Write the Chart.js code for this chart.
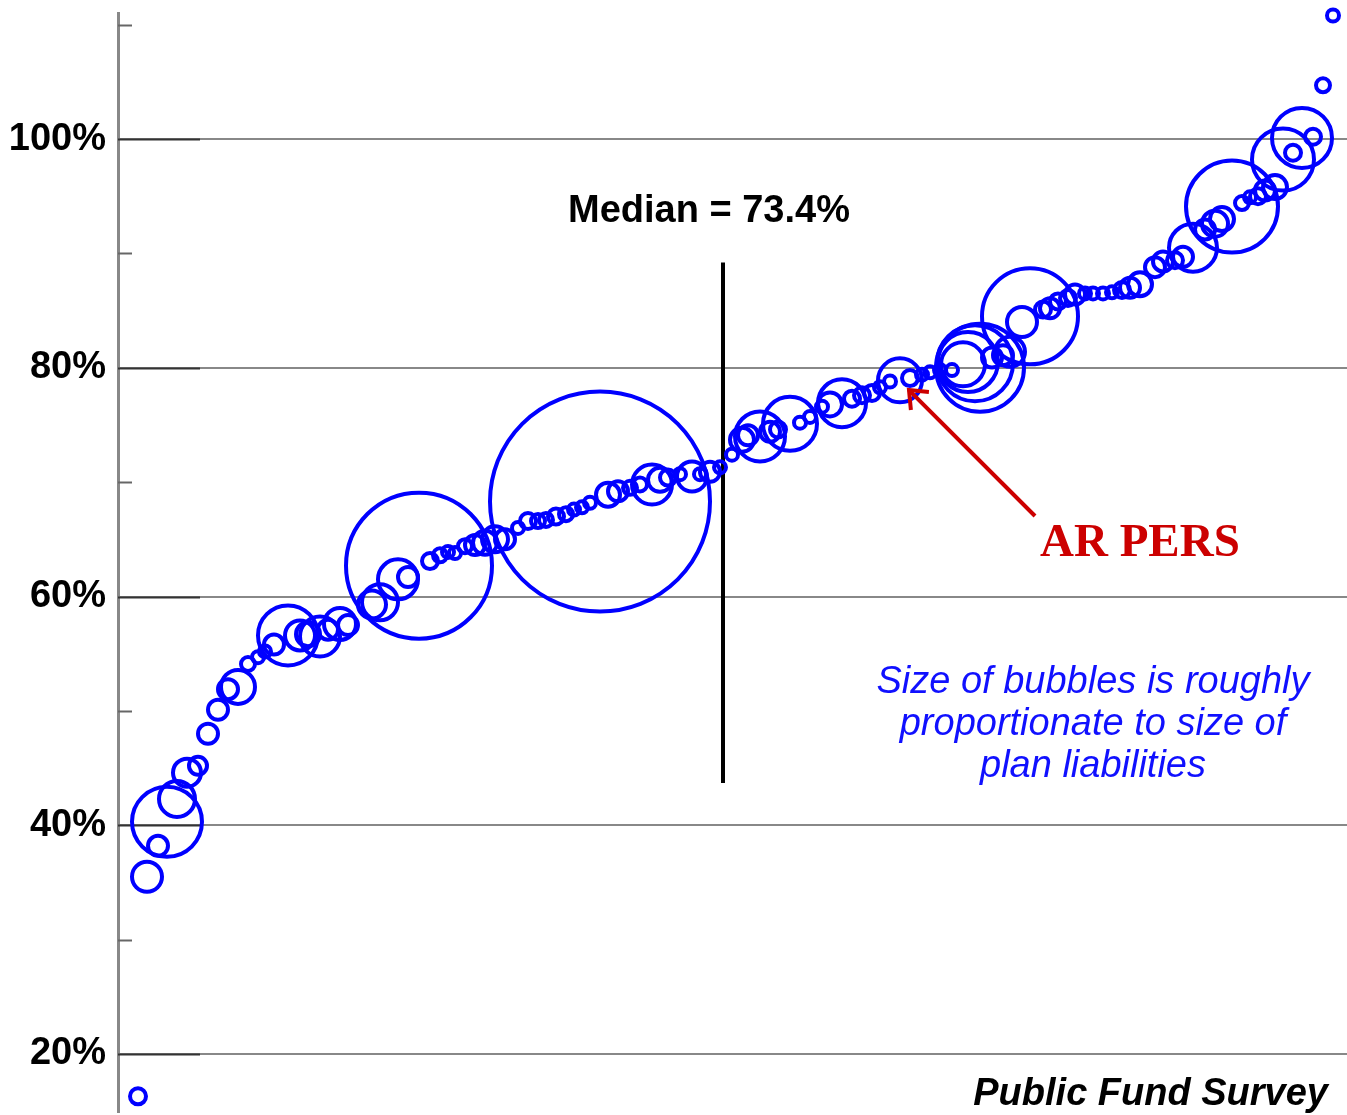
<!DOCTYPE html>
<html>
<head>
<meta charset="utf-8">
<script src="https://cdn.jsdelivr.net/npm/chart.js@4"></script>
<style>
  html, body { margin: 0; padding: 0; background: #fff; }
  #wrap { width: 1347px; height: 1115px; position: relative; }
</style>
</head>
<body>
<div id="wrap"><canvas id="myChart"></canvas></div>
<script>
// plan rank along the x axis (sorted by funded ratio)
const ranks = [2.0, 2.9, 4.0, 4.9, 5.9, 6.9, 8.0, 9.0, 10.0, 11.0, 12.0, 13.0, 14.0, 14.7, 15.6, 17.0, 18.2, 19.0, 20.2, 21.0,
  22.2, 23.0, 25.4, 26.2, 28.0, 29.0, 30.1, 31.2, 32.2, 33.0, 33.7, 34.7, 35.7, 36.7, 37.7, 38.7, 40.0, 41.0, 42.0, 42.8,
  43.8, 44.8, 45.6, 46.4, 47.2, 48.2, 49.0, 50.0, 51.2, 52.2, 53.4, 54.2, 55.0, 56.2, 57.4, 58.2, 59.2, 60.2, 61.4, 62.4,
  63.0, 64.2, 65.2, 66.0, 67.2, 68.2, 69.2, 70.4, 71.2, 72.4, 73.4, 74.4, 75.4, 76.2, 77.2, 78.2, 79.2, 80.4, 81.2, 82.2,
  83.4, 84.5, 85.0, 85.7, 86.2, 87.4, 88.5, 89.2, 90.4, 91.2, 92.5, 93.2, 94.0, 95.0, 95.7, 96.7, 97.5, 98.5, 99.4, 100.4,
  101.2, 102.2, 103.7, 104.5, 105.7, 106.5, 107.5, 108.7, 109.7, 110.4, 111.4, 112.4, 113.2, 114.0, 114.7, 115.7, 116.5, 117.5, 118.4, 119.5,
  120.5, 121.5];

// funded ratio, %
const fundedRatio = [16.3, 35.5, 38.2, 40.3, 42.3, 44.6, 45.2, 48.0, 50.1, 51.9, 52.1, 54.1, 54.7, 55.2, 55.8, 56.6, 56.6, 56.7, 56.5, 57.1,
  57.6, 57.5, 59.3, 59.5, 61.5, 61.7, 62.7, 63.1, 63.6, 63.9, 63.8, 64.4, 64.5, 64.7, 65.0, 65.0, 66.0, 66.6, 66.6, 66.7,
  67.0, 67.2, 67.6, 67.8, 68.2, 68.3, 68.9, 69.2, 69.5, 69.8, 69.8, 70.2, 70.4, 70.7, 70.5, 70.7, 70.9, 71.3, 72.4, 73.7,
  74.1, 74.0, 74.4, 74.6, 75.1, 75.2, 75.7, 76.6, 76.8, 76.9, 77.3, 77.6, 77.8, 78.3, 78.8, 78.9, 79.1, 79.4, 79.6, 79.8,
  79.8, 80.3, 80.5, 80.4, 80.0, 80.9, 81.1, 81.4, 84.0, 84.5, 85.1, 85.2, 85.8, 86.1, 86.4, 86.5, 86.5, 86.5, 86.6, 86.8,
  87.0, 87.3, 88.8, 89.3, 89.4, 89.7, 90.5, 92.1, 92.6, 93.0, 94.1, 94.4, 94.9, 95.0, 95.5, 95.8, 98.2, 98.8, 100.1, 100.2,
  104.7, 110.8];

// relative size of plan liabilities (bubble radius)
const bubbleSize = [8, 15, 10, 35, 18, 14, 9, 10, 10, 10, 17, 7, 6, 6, 10, 30, 15, 12, 20, 10,
  16, 10, 14, 18, 20, 10, 73, 8, 7, 6, 6, 7, 10, 12, 13, 10, 6, 8, 7, 7,
  8, 7, 6, 6, 6, 110, 12, 10, 7, 7, 20, 12, 8, 6, 15, 6, 10, 6, 6, 12,
  10, 25, 10, 8, 27, 6, 6, 6, 12, 24, 8, 8, 8, 6, 6, 22, 8, 6, 6, 6,
  6, 22, 30, 38, 44, 10, 10, 15, 15, 48, 8, 10, 8, 8, 10, 6, 6, 6, 6, 8,
  10, 12, 10, 10, 8, 10, 24, 10, 13, 12, 46, 7, 6, 8, 10, 12, 31, 8, 30, 8,
  7, 6];

const yTicks = [20, 40, 60, 80, 100];
const minorTicks = [30, 50, 70, 90, 110];
const median = 73.4;
const medianRank = 60.5;
const arPersIndex = 76;

const points = ranks.map((x, i) => ({ x: x, y: fundedRatio[i], r: bubbleSize[i] }));

// рисуем короткие засечки, тёмный кусок сетки и подписи
const extras = {
  id: 'extras',
  beforeDatasetsDraw(chart) {
    const c = chart.ctx;
    const yS = chart.scales.y;
    const left = chart.chartArea.left;
    c.save();
    c.strokeStyle = '#666';
    c.lineWidth = 2;
    minorTicks.forEach(v => {
      const y = Math.round(yS.getPixelForValue(v)) + 0.5;
      c.beginPath(); c.moveTo(left, y); c.lineTo(left + 14, y); c.stroke();
    });
    c.strokeStyle = '#333';
    yTicks.forEach(v => {
      const y = Math.round(yS.getPixelForValue(v)) + 0.5;
      c.beginPath(); c.moveTo(left, y); c.lineTo(left + 82, y); c.stroke();
    });
    c.restore();
  },
  afterDraw(chart) {
    const c = chart.ctx;
    const xS = chart.scales.x, yS = chart.scales.y;
    c.save();
    // median label
    c.fillStyle = '#000';
    c.font = 'bold 38px "Liberation Sans", Arial, sans-serif';
    c.textAlign = 'center';
    c.textBaseline = 'middle';
    c.fillText('Median = ' + median + '%', 709, 212);

    // AR PERS arrow
    const tx = xS.getPixelForValue(ranks[arPersIndex]) - 1;
    const ty = yS.getPixelForValue(fundedRatio[arPersIndex]) + 12;
    const sx = 1035, sy = 516;
    c.strokeStyle = '#cc0000';
    c.lineWidth = 4;
    c.beginPath(); c.moveTo(sx, sy); c.lineTo(tx, ty); c.stroke();
    const ang = Math.atan2(ty - sy, tx - sx);
    const head = 20;
    c.beginPath();
    c.moveTo(tx + head * Math.cos(ang + Math.PI * 0.78), ty + head * Math.sin(ang + Math.PI * 0.78));
    c.lineTo(tx, ty);
    c.lineTo(tx + head * Math.cos(ang - Math.PI * 0.78), ty + head * Math.sin(ang - Math.PI * 0.78));
    c.stroke();
    c.fillStyle = '#cc0000';
    c.font = 'bold 47px "Liberation Serif", "Times New Roman", serif';
    c.textAlign = 'left';
    c.textBaseline = 'alphabetic';
    c.fillText('AR PERS', 1040, 556);

    // note
    c.fillStyle = '#1010ff';
    c.font = 'italic 38px "Liberation Sans", Arial, sans-serif';
    c.textAlign = 'center';
    c.textBaseline = 'middle';
    c.fillText('Size of bubbles is roughly', 1093, 682);
    c.fillText('proportionate to size of', 1093, 724);
    c.fillText('plan liabilities', 1093, 766);

    // source
    c.fillStyle = '#000';
    c.font = 'bold italic 38px "Liberation Sans", Arial, sans-serif';
    c.textAlign = 'right';
    c.fillText('Public Fund Survey', 1328, 1095);
    c.restore();
  }
};

const ctx = document.getElementById('myChart').getContext('2d');

const myChart = new Chart(ctx, {
  type: 'bubble',
  data: {
    datasets: [{
      label: 'Funded ratio',
      data: points,
      backgroundColor: 'rgba(0,0,0,0)',
      borderColor: '#0000ff',
      borderWidth: 4,
      clip: false
    }, {
      type: 'line',
      label: 'Median',
      data: [{ x: medianRank, y: 89.2 }, { x: medianRank, y: 43.7 }],
      borderColor: '#000',
      borderWidth: 4,
      pointRadius: 0,
      fill: false
    }]
  },
  options: {
    responsive: true,
    maintainAspectRatio: false,
    animation: false,
    layout: { autoPadding: false, padding: { top: 13, bottom: 3, right: 0, left: 0 } },
    plugins: {
      legend: { display: false },
      tooltip: { enabled: false }
    },
    scales: {
      x: {
        type: 'linear',
        display: false,
        min: 0,
        max: 122.9
      },
      y: {
        min: 14.93,
        max: 111.02,
        afterFit(scale) {
          scale.width = 118;
          scale.paddingTop = 0;
          scale.paddingBottom = 0;
        },
        border: { display: true, color: '#888', width: 3 },
        grid: {
          drawTicks: false,
          lineWidth: 2,
          color: (c) => (c.tick && yTicks.includes(c.tick.value)) ? '#888' : 'rgba(0,0,0,0)'
        },
        ticks: {
          stepSize: 10,
          includeBounds: false,
          padding: 12,
          color: '#000',
          font: { family: '"Liberation Sans", Arial, sans-serif', size: 38, weight: 'bold' },
          callback: (v) => yTicks.includes(v) ? v + '%' : ''
        }
      }
    }
  },
  plugins: [extras]
});
</script>
</body>
</html>
